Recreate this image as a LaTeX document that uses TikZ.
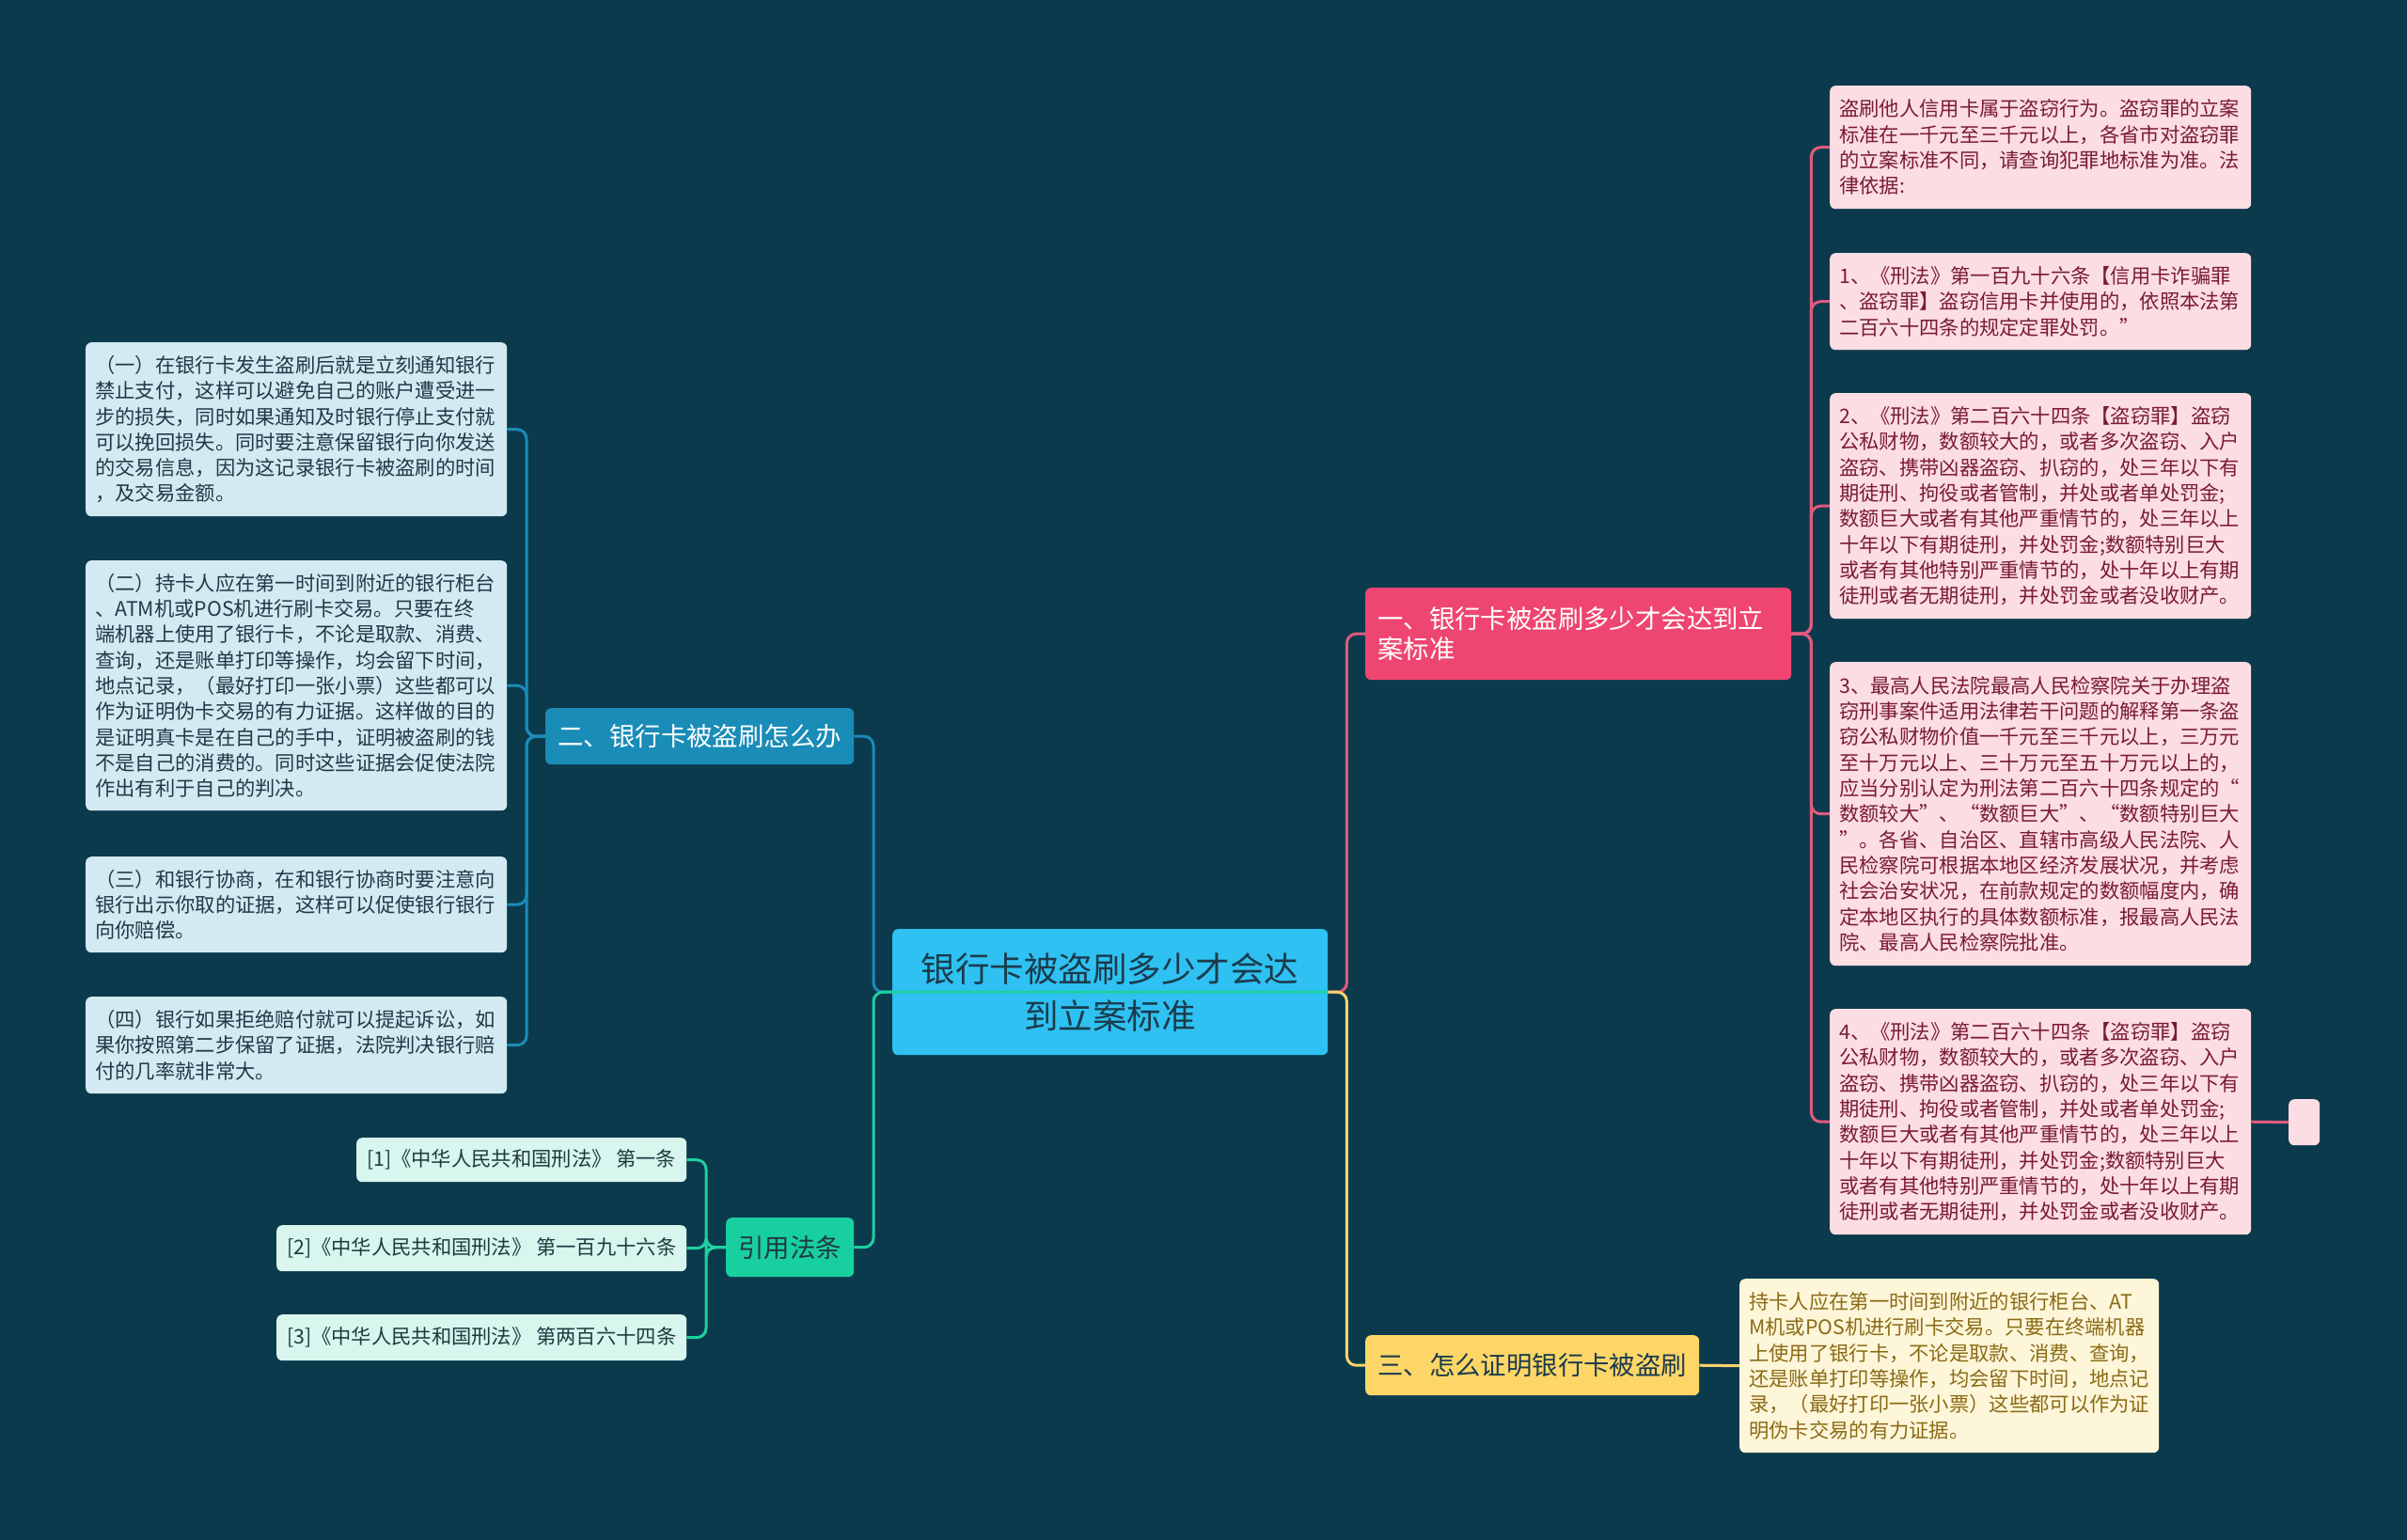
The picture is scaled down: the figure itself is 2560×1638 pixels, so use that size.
\documentclass[tikz,border=0pt]{standalone}
\usepackage{fontspec}
\newfontfamily\cjk{Noto Sans CJK SC}
\definecolor{bgc}{HTML}{0C3A4D}
\definecolor{rootc}{HTML}{2EC1F1}
\definecolor{roottxt}{HTML}{1B3B4C}
\definecolor{pinkc}{HTML}{EF4571}
\definecolor{pinkleafc}{HTML}{FBDDE3}
\definecolor{pinktxt}{HTML}{7A1B33}
\definecolor{pinkln}{HTML}{E25A7E}
\definecolor{yelc}{HTML}{FDD667}
\definecolor{yelleafc}{HTML}{FEF6D9}
\definecolor{yeltxt}{HTML}{8A6A15}
\definecolor{yelln}{HTML}{F7D46A}
\definecolor{bluec}{HTML}{1A8CB8}
\definecolor{blueleafc}{HTML}{D4EAF2}
\definecolor{bluetxt}{HTML}{1F3946}
\definecolor{greenc}{HTML}{18CFA0}
\definecolor{greenleafc}{HTML}{D8F5EE}
\definecolor{greentxt}{HTML}{1F3A3F}
\definecolor{greenln}{HTML}{1ED1A1}
\lineskiplimit=-100pt

\begin{document}
\begin{tikzpicture}[x=1pt, y=-1pt,
            nodes={anchor=north west, rounded corners=6pt, inner ysep=0pt},
            leaf/.style={text width=428pt, inner xsep=10pt, align=left,
                font=\cjk\fontsize{21.3}{27.3}\selectfont},
            branch/.style={inner xsep=13pt, align=left,
                font=\cjk\fontsize{27.4}{31.7}\selectfont},
            ref/.style={fill=greenleafc, text=greentxt, inner xsep=8pt, align=center,
                font=\cjk\fontsize{21.3}{27.3}\selectfont},
            link/.style={line width=3pt, rounded corners=10pt}]
        \fill [bgc] (0,0) rectangle (2560,1638);
        \useasboundingbox (0,0) rectangle (2560,1638);

        \node (c) at (949,988) [fill=rootc, text=roottxt, minimum width=463pt, minimum height=134pt,
            align=center, font=\cjk\fontsize{36.5}{50}\selectfont]
            {银行卡被盗刷多少才会达\\到立案标准};

        \node (p) at (1452,625) [branch, fill=pinkc, text=white, text width=427pt, minimum height=98pt]
            {一、银行卡被盗刷多少才会达到立\\案标准};
        \node (p1) at (1946,91) [leaf, fill=pinkleafc, text=pinktxt, minimum height=131pt]
            {盗刷他人信用卡属于盗窃行为。盗窃罪的立案\\标准在一千元至三千元以上，各省市对盗窃罪\\的立案标准不同，请查询犯罪地标准为准。法\\律依据:};
        \node (p2) at (1946,269) [leaf, fill=pinkleafc, text=pinktxt, minimum height=103pt]
            {1、《刑法》第一百九十六条【信用卡诈骗罪\\、盗窃罪】盗窃信用卡并使用的，依照本法第\\二百六十四条的规定定罪处罚。”};
        \node (p3) at (1946,418) [leaf, fill=pinkleafc, text=pinktxt, minimum height=240pt]
            {2、《刑法》第二百六十四条【盗窃罪】盗窃\\公私财物，数额较大的，或者多次盗窃、入户\\盗窃、携带凶器盗窃、扒窃的，处三年以下有\\期徒刑、拘役或者管制，并处或者单处罚金;\\数额巨大或者有其他严重情节的，处三年以上\\十年以下有期徒刑，并处罚金;数额特别巨大\\或者有其他特别严重情节的，处十年以上有期\\徒刑或者无期徒刑，并处罚金或者没收财产。};
        \node (p4) at (1946,704) [leaf, fill=pinkleafc, text=pinktxt, minimum height=323pt]
            {3、最高人民法院最高人民检察院关于办理盗\\窃刑事案件适用法律若干问题的解释第一条盗\\窃公私财物价值一千元至三千元以上，三万元\\至十万元以上、三十万元至五十万元以上的，\\应当分别认定为刑法第二百六十四条规定的“\\数额较大”、“数额巨大”、“数额特别巨大\\”。各省、自治区、直辖市高级人民法院、人\\民检察院可根据本地区经济发展状况，并考虑\\社会治安状况，在前款规定的数额幅度内，确\\定本地区执行的具体数额标准，报最高人民法\\院、最高人民检察院批准。};
        \node (p5) at (1946,1073) [leaf, fill=pinkleafc, text=pinktxt, minimum height=240pt]
            {4、《刑法》第二百六十四条【盗窃罪】盗窃\\公私财物，数额较大的，或者多次盗窃、入户\\盗窃、携带凶器盗窃、扒窃的，处三年以下有\\期徒刑、拘役或者管制，并处或者单处罚金;\\数额巨大或者有其他严重情节的，处三年以上\\十年以下有期徒刑，并处罚金;数额特别巨大\\或者有其他特别严重情节的，处十年以上有期\\徒刑或者无期徒刑，并处罚金或者没收财产。};
        \node (e) at (2434,1169) [fill=pinkleafc, inner sep=0pt, minimum width=33pt, minimum height=49pt] {};

        \node (y) at (1452,1420) [branch, fill=yelc, text=roottxt, minimum width=355pt, minimum height=64pt]
            {三、怎么证明银行卡被盗刷};
        \node (y1) at (1850,1360) [leaf, fill=yelleafc, text=yeltxt, text width=426pt, minimum height=185pt]
            {持卡人应在第一时间到附近的银行柜台、AT\\M机或POS机进行刷卡交易。只要在终端机器\\上使用了银行卡，不论是取款、消费、查询，\\还是账单打印等操作，均会留下时间，地点记\\录，（最好打印一张小票）这些都可以作为证\\明伪卡交易的有力证据。};

        \node (b) at (580,753) [branch, fill=bluec, text=white, minimum width=328pt, minimum height=60pt]
            {二、银行卡被盗刷怎么办};
        \node (b1) at (91,364) [leaf, fill=blueleafc, text=bluetxt, minimum height=185pt]
            {（一）在银行卡发生盗刷后就是立刻通知银行\\禁止支付，这样可以避免自己的账户遭受进一\\步的损失，同时如果通知及时银行停止支付就\\可以挽回损失。同时要注意保留银行向你发送\\的交易信息，因为这记录银行卡被盗刷的时间\\，及交易金额。};
        \node (b2) at (91,596) [leaf, fill=blueleafc, text=bluetxt, minimum height=266pt]
            {（二）持卡人应在第一时间到附近的银行柜台\\、ATM机或POS机进行刷卡交易。只要在终\\端机器上使用了银行卡，不论是取款、消费、\\查询，还是账单打印等操作，均会留下时间，\\地点记录，（最好打印一张小票）这些都可以\\作为证明伪卡交易的有力证据。这样做的目的\\是证明真卡是在自己的手中，证明被盗刷的钱\\不是自己的消费的。同时这些证据会促使法院\\作出有利于自己的判决。};
        \node (b3) at (91,911) [leaf, fill=blueleafc, text=bluetxt, minimum height=102pt]
            {（三）和银行协商，在和银行协商时要注意向\\银行出示你取的证据，这样可以促使银行银行\\向你赔偿。};
        \node (b4) at (91,1060) [leaf, fill=blueleafc, text=bluetxt, minimum height=103pt]
            {（四）银行如果拒绝赔付就可以提起诉讼，如\\果你按照第二步保留了证据，法院判决银行赔\\付的几率就非常大。};

        \node (g) at (772,1295) [branch, fill=greenc, text=greentxt, minimum width=136pt, minimum height=63pt, align=center]
            {引用法条};
        \node (g1) at (379,1210) [ref, minimum width=351pt, minimum height=47pt]
            {[1]《中华人民共和国刑法》 第一条};
        \node (g2) at (294,1303) [ref, minimum width=436pt, minimum height=49pt]
            {[2]《中华人民共和国刑法》 第一百九十六条};
        \node (g3) at (294,1398) [ref, minimum width=436pt, minimum height=49pt]
            {[3]《中华人民共和国刑法》 第两百六十四条};

        \draw [link, pinkln] (c.east) -- ++(20,0) |- (p.west);
        \draw [link, yelln] (c.east) -- ++(20,0) |- (y.west);
        \draw [link, bluec] (c.west) -- ++(-20,0) |- (b.east);
        \draw [link, greenln] (c.east) -- (c.west) -- ++(-20,0) |- (g.east);

        \foreach \n in {p1,p2,p3,p4,p5}
            \draw [link, pinkln] (p.east) -- ++(21,0) |- (\n.west);
        \draw [link, pinkln] (p5.east) -- (e.west);
        \draw [link, yelln] (y.east) -- (y1.west);
        \foreach \n in {b1,b2,b3,b4}
            \draw [link, bluec] (b.west) -- ++(-20,0) |- (\n.east);
        \foreach \n in {g1,g2,g3}
            \draw [link, greenln] (g.west) -- ++(-21,0) |- (\n.east);
    \end{tikzpicture}
\end{document}
